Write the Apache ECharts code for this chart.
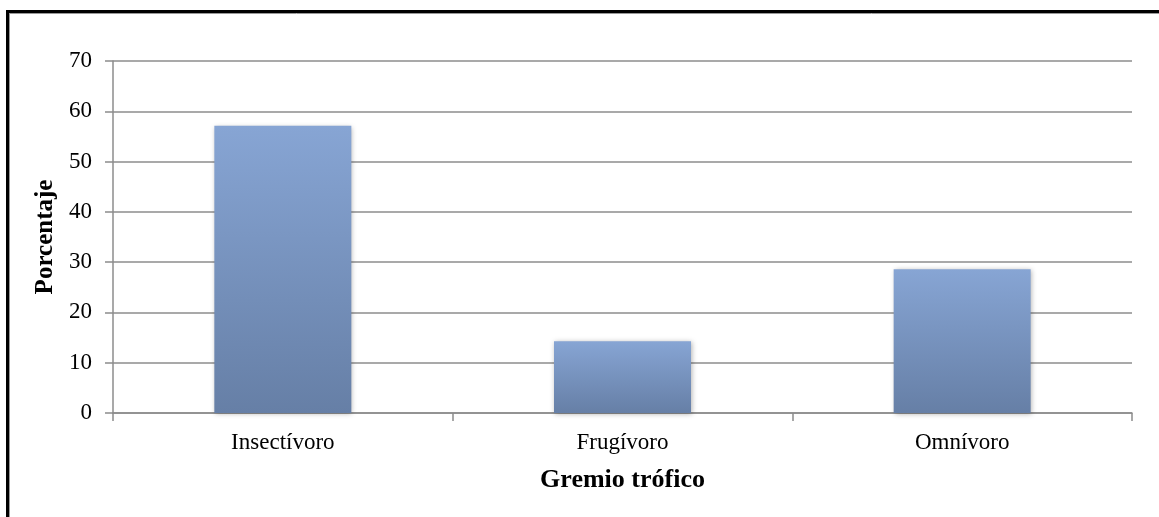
<!DOCTYPE html>
<html><head><meta charset="utf-8">
<script src="https://cdn.jsdelivr.net/npm/echarts@6/dist/echarts.min.js"></script>
<style>html,body{margin:0;padding:0;background:#fff}#c{width:1159px;height:517px}</style>
</head><body><div id="c"></div>
<script>
const categories = ['Insectívoro', 'Frugívoro', 'Omnívoro'];
const values = [57.14, 14.29, 28.57];
const yTicks = [0, 10, 20, 30, 40, 50, 60, 70];
const yTitle = 'Porcentaje';
const xTitle = 'Gremio trófico';

const font = '"Liberation Serif", "Times New Roman", serif';
const chart = echarts.init(document.getElementById('c'), null, {renderer: 'canvas'});
chart.setOption({
  animation: false,
  backgroundColor: '#fff',
  grid: {left: 113, right: 27, top: 61, bottom: 104, containLabel: false},
  xAxis: {
    type: 'category', data: categories,
    axisLine: {lineStyle: {color: '#8c8c8c', width: 1.5}},
    axisTick: {show: true, length: 8, alignWithLabel: false, lineStyle: {color: '#8c8c8c', width: 1.5}},
    axisLabel: {color: '#000', fontFamily: font, fontSize: 23, margin: 18},
    name: xTitle, nameLocation: 'middle', nameGap: 54,
    nameTextStyle: {color: '#000', fontFamily: font, fontSize: 26, fontWeight: 'bold'}
  },
  yAxis: {
    type: 'value', min: yTicks[0], max: yTicks[yTicks.length - 1], interval: 10,
    axisLine: {show: true, lineStyle: {color: '#8c8c8c', width: 1.5}},
    axisTick: {show: true, length: 8, lineStyle: {color: '#8c8c8c', width: 1.5}},
    splitLine: {lineStyle: {color: '#8c8c8c', width: 1.5}},
    axisLabel: {color: '#000', fontFamily: font, fontSize: 23, margin: 21},
    name: yTitle, nameLocation: 'middle', nameGap: 53, nameRotate: 90,
    nameTextStyle: {color: '#000', fontFamily: font, fontSize: 25, fontWeight: 'bold'}
  },
  series: [{
    type: 'bar', data: values, barWidth: 137,
    itemStyle: {
      color: new echarts.graphic.LinearGradient(0, 0, 0, 1, [
        {offset: 0, color: '#87a5d4'},
        {offset: 1, color: '#667fa6'}
      ]),
      shadowColor: 'rgba(0,0,0,0.3)', shadowBlur: 5, shadowOffsetX: 1, shadowOffsetY: 1
    }
  }],
  graphic: [
    {type: 'line', shape: {x1: 7.5, y1: 11, x2: 7.5, y2: 517}, style: {stroke: '#000', lineWidth: 3}},
    {type: 'line', shape: {x1: 6, y1: 11.5, x2: 1159, y2: 11.5}, style: {stroke: '#000', lineWidth: 3}},
    {type: 'line', shape: {x1: 9.5, y1: 13, x2: 9.5, y2: 517}, style: {stroke: '#999', lineWidth: 1}},
    {type: 'line', shape: {x1: 9, y1: 13.5, x2: 1159, y2: 13.5}, style: {stroke: '#999', lineWidth: 1}}
  ]
});
</script></body></html>
